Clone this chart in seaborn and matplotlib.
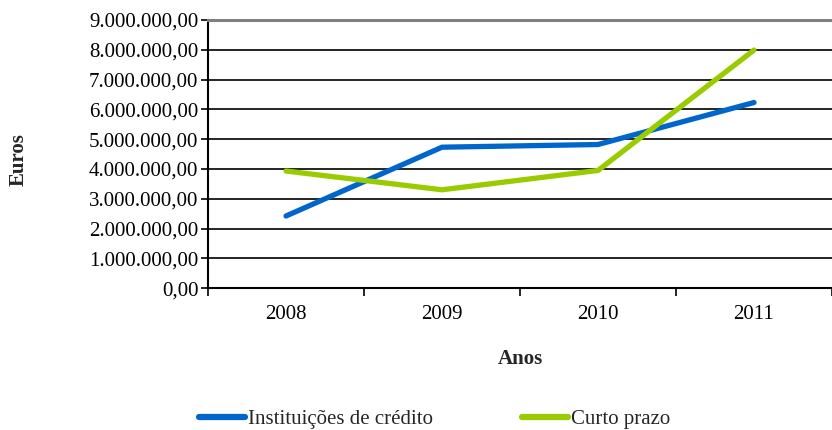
import matplotlib
matplotlib.use("Agg")
import matplotlib.pyplot as plt
import matplotlib.ticker as mticker
import pandas as pd
import seaborn as sns

# data
anos = ["2008", "2009", "2010", "2011"]
instituicoes = [2420000, 4730000, 4820000, 6230000]
curto_prazo = [3930000, 3300000, 3950000, 7990000]

series_names = ["Instituições de crédito", "Curto prazo"]
series_colors = ["#0066CC", "#99CC00"]

df = pd.DataFrame({
    "pos": list(range(len(anos))) * 2,
    "valor": instituicoes + curto_prazo,
    "serie": [series_names[0]] * len(anos) + [series_names[1]] * len(anos),
})

sns.set_style("white")
plt.rcParams["font.family"] = ["Liberation Serif", "DejaVu Serif"]
FS = 15

fig = plt.figure(figsize=(8.32, 4.30), dpi=100)
ax = fig.add_axes([0.25, 0.330, 0.75, 0.6235])

sns.lineplot(data=df, x="pos", y="valor", hue="serie",
             palette=dict(zip(series_names, series_colors)),
             linewidth=3.8, ax=ax, legend=False,
             solid_capstyle="round", solid_joinstyle="miter")

ax.set_xlim(-0.5, len(anos) - 0.5)
ax.set_ylim(0, 9000000)
ax.yaxis.set_major_locator(mticker.MultipleLocator(1000000))

def fmt_pt(v, pos):
    s = f"{v:,.2f}"
    return s.replace(",", "X").replace(".", ",").replace("X", ".")

ax.yaxis.set_major_formatter(mticker.FuncFormatter(fmt_pt))
ax.set_xticks(range(len(anos)))
ax.set_xticklabels(anos)
ax.set_xticks([i - 0.5 for i in range(len(anos) + 1)], minor=True)
ax.tick_params(axis="x", which="major", bottom=True, length=0, pad=12, labelsize=FS)
ax.tick_params(axis="x", which="minor", bottom=True, length=6, width=1.2,
               direction="out", color="black")
ax.tick_params(axis="y", left=True, length=5, width=1.2, direction="out",
               color="black", labelsize=FS, pad=2)
ax.tick_params(axis="both", labelcolor="black")

ax.grid(axis="y", color="black", linewidth=1.2)
ax.set_axisbelow(True)
ax.spines["right"].set_visible(False)
ax.spines["top"].set_color("#808080")
ax.spines["top"].set_linewidth(2.2)
for s in ["left", "bottom"]:
    ax.spines[s].set_color("black")
    ax.spines[s].set_linewidth(1.5)

ax.set_xlabel("Anos", fontsize=FS, fontweight="bold", labelpad=18)
ax.set_ylabel("")
fig.text(0.022, 0.628, "Euros", rotation=90, fontsize=FS, fontweight="bold",
         ha="center", va="center")

handles = [plt.Line2D([], [], color=c, linewidth=4.5, solid_capstyle="round")
           for c in series_colors]
fig.legend(handles, series_names, loc="center left", bbox_to_anchor=(0.239, 0.025),
           ncol=2, frameon=False, fontsize=FS, handlelength=2.2,
           handletextpad=0.15, columnspacing=4.3, borderaxespad=0, borderpad=0)

fig.savefig("out.png", dpi=100)
